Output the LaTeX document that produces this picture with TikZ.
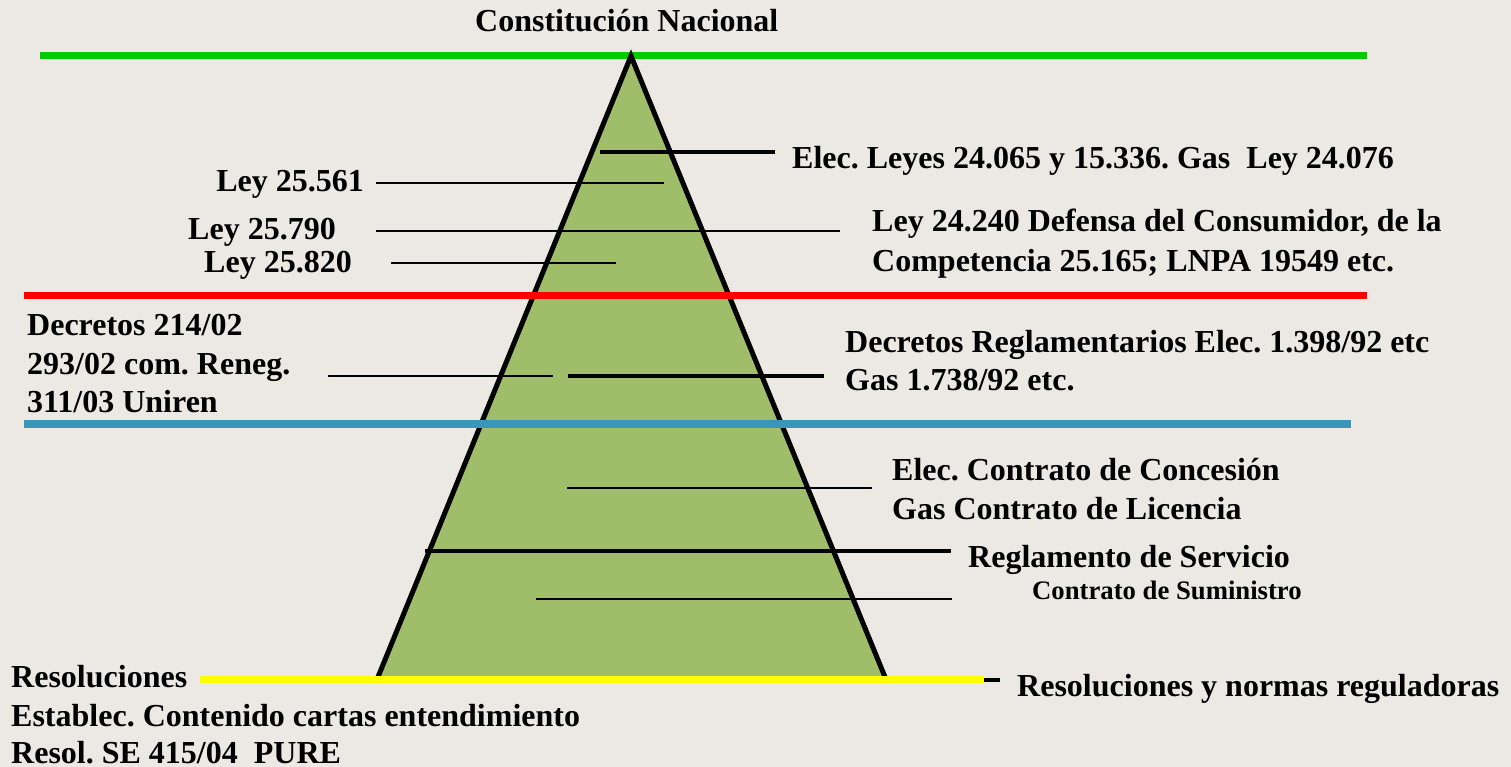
\documentclass[tikz,border=0pt]{standalone}
\usepackage{fontspec}
\setmainfont{Liberation Serif}[BoldFont={Liberation Serif Bold}]
\frenchspacing
\definecolor{bg}{RGB}{236,232,228}
\definecolor{pyr}{RGB}{160,190,106}
\definecolor{lgreen}{RGB}{0,204,0}
\definecolor{lred}{RGB}{255,0,0}
\definecolor{lblue}{RGB}{58,150,184}
\definecolor{lyellow}{RGB}{255,255,0}
\begin{document}
\begin{tikzpicture}[x=1pt,y=-1pt,
  lbl/.style={inner sep=0pt, anchor=base west, font=\fontsize{32}{38}\selectfont\bfseries},
  lblr/.style={lbl, anchor=base east},
  smalllbl/.style={inner sep=0pt, anchor=base west, font=\fontsize{26.7}{32}\selectfont\bfseries},
  band/.style={line width=7.5pt},
  thinline/.style={line width=2pt, draw=black},
  thickline/.style={line width=4pt, draw=black},
]
\fill[bg] (0,0) rectangle (1511,767);
\useasboundingbox (0,0) rectangle (1511,767);

% coordinates
\coordinate (g1) at (40,55.5);   \coordinate (g2) at (1367,55.5);
\coordinate (r1c) at (24,295.5); \coordinate (r2c) at (1367,295.5);
\coordinate (b1c) at (24,424);   \coordinate (b2c) at (1351,424);
\coordinate (y1c) at (200,679.5);\coordinate (y2c) at (984,679.5);
\coordinate (y3c) at (1000,679.5);
\coordinate (apex) at (631,56);
\coordinate (bl) at (378,677);
\coordinate (br) at (885,677);

% green band
\draw[band, lgreen] (g1) -- (g2);

% pyramid
\fill[pyr] (bl) -- (apex) -- (br) -- cycle;
\draw[line width=5pt, line join=miter] (bl) -- (apex) -- (br);

% leader line coordinates
\coordinate (e1) at (600,152);   \coordinate (e2) at (775,152);
\coordinate (a1) at (376,183.5); \coordinate (a2) at (664,183.5);
\coordinate (p1) at (376,231);   \coordinate (p2) at (600,231);
\coordinate (p3) at (584,231);   \coordinate (p4) at (840,231);
\coordinate (c1) at (391,263);   \coordinate (c2) at (616,263);
\coordinate (d1) at (328,375.5); \coordinate (d2) at (553,375.5);
\coordinate (d3) at (568,375.5); \coordinate (d4) at (824,375.5);
\coordinate (f1) at (567,487.5); \coordinate (f2) at (872,487.5);
\coordinate (h1) at (425,551);   \coordinate (h2) at (951,551);
\coordinate (k1) at (536,599);   \coordinate (k2) at (952,599);

\draw[thickline] (e1) -- (e2);
\draw[thinline] (a1) -- (a2);
\draw[thinline] (p1) -- (p2);
\draw[thinline] (p3) -- (p4);
\draw[thinline] (c1) -- (c2);
\draw[thinline] (d1) -- (d2);
\draw[thickline] (d3) -- (d4);
\draw[thinline] (f1) -- (f2);
\draw[thickline] (h1) -- (h2);
\draw[thinline] (k1) -- (k2);

% coloured bands
\draw[band, lred] (r1c) -- (r2c);
\draw[band, lblue] (b1c) -- (b2c);
\draw[band, lyellow] (y1c) -- (y2c);
\draw[thickline] (y2c) -- (y3c);

% texts
\node[lbl] (cn) at (475,32) {Constitución Nacional};
\node[lbl] (elec) at (792,169) {Elec. Leyes 24.065 y 15.336. Gas\ \ Ley 24.076};
\node[lblr] (l561) at (364,192) {Ley 25.561};
\node[lbl] (l790) at (188,240) {Ley 25.790};
\node[lbl] (l820) at (204,272) {Ley 25.820};
\node[lbl] (l240a) at (872,232) {Ley 24.240 Defensa del Consumidor, de la};
\node[lbl] (l240b) at (872,271) {Competencia 25.165; LNPA 19549 etc.};
\node[lbl] (dec1) at (27,335) {Decretos 214/02};
\node[lbl] (dec2) at (27,374) {293/02 com. Reneg.};
\node[lbl] (dec3) at (27,412) {311/03 Uniren};
\node[lbl] (dr1) at (845,352) {Decretos Reglamentarios Elec. 1.398/92 etc};
\node[lbl] (dr2) at (845,390) {Gas 1.738/92 etc.};
\node[lbl] (cc1) at (892,480) {Elec. Contrato de Concesión};
\node[lbl] (cc2) at (892,519) {Gas Contrato de Licencia};
\node[lbl] (rs) at (968,567) {Reglamento de Servicio};
\node[smalllbl] (cs) at (1032,599) {Contrato de Suministro};
\node[lbl] (rn) at (1017,696) {Resoluciones y normas reguladoras};
\node[lbl] (res1) at (11,687) {Resoluciones};
\node[lbl] (res2) at (11,726) {Establec. Contenido cartas entendimiento};
\node[lbl] (res3) at (11,763) {Resol. SE 415/04\ \ PURE};
\end{tikzpicture}
\end{document}
